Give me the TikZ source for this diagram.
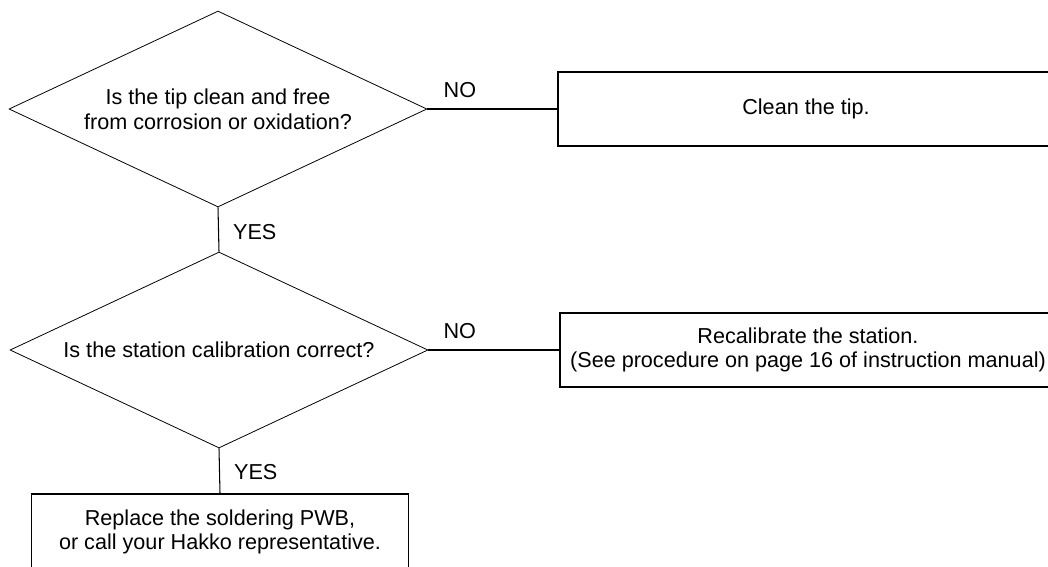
\documentclass[tikz,border=0pt]{standalone}
\usepackage{fontspec}
\setmainfont{Liberation Sans}
\usetikzlibrary{shapes.geometric}
\tikzset{%
    txt/.style={font=\fontsize{12.3}{14}\selectfont, align=center},
    dec/.style={txt, diamond, draw, line width=0.45pt, aspect=2.14, inner sep=0pt, minimum width=8.36cm, minimum height=3.92cm},
    act/.style={txt, rectangle, draw, line width=0.8pt, inner sep=0pt, minimum width=9.92cm, minimum height=1.48cm},
    fin/.style={act, minimum width=7.54cm, minimum height=1.52cm},
    pri/.style={line width=0.6pt},
    lbl/.style={font=\fontsize{12.3}{14}\selectfont, inner sep=0pt},
}
\begin{document}
\begin{tikzpicture}[x=0.02cm, y=-0.02cm]
    \clip (0,0) rectangle (1048,566);
    \node [dec] (tip) at (218,109) {Is the tip clean and free\\from corrosion or oxidation?};
    \node [act] (clean) at (806,109) {Clean the tip.};
    \node [dec] (calib) at (219,350) {Is the station calibration correct?};
    \node [act] (recal) at (808,350) {Recalibrate the station.\\(See procedure on page 16 of instruction manual)};
    \node [fin] (pwb) at (220,532) {Replace the soldering PWB,\\or call your Hakko representative.};
    \draw [pri] (tip.east) -- node[lbl, pos=0.25, above=6pt]{NO} (clean.west);
    \draw [pri] (tip.south) -- node[lbl, pos=0.55, right=8pt]{YES} (calib.north);
    \draw [pri] (calib.east) -- node[lbl, pos=0.24, above=6pt]{NO} (recal.west);
    \draw [pri] (calib.south) -- node[lbl, pos=0.52, right=8pt]{YES} (pwb.north);
\end{tikzpicture}
\end{document}
